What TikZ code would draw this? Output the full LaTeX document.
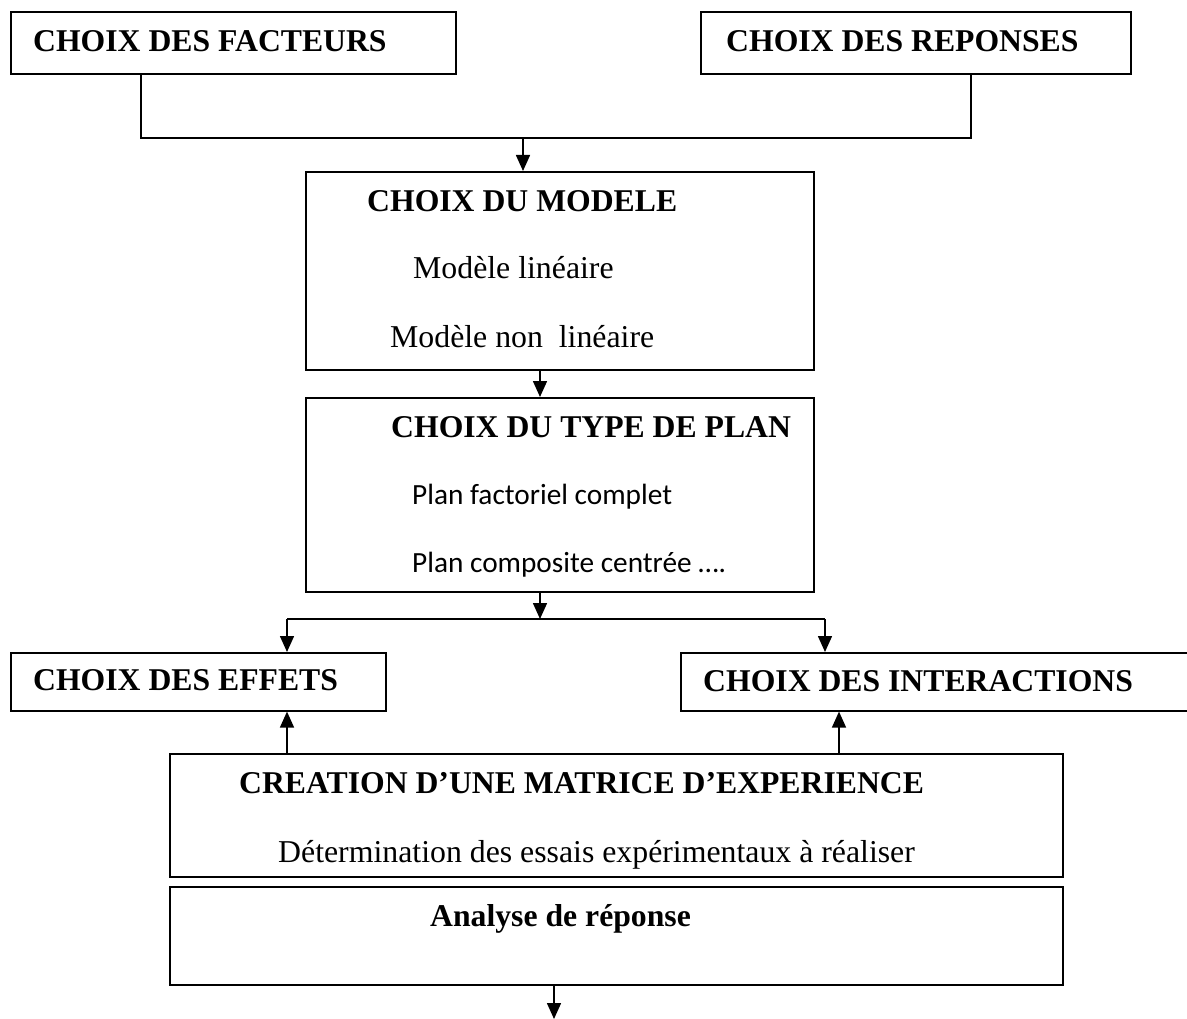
\documentclass[tikz,border=0pt]{standalone}
\usepackage{fontspec}
\setmainfont{Liberation Serif}
\newfontfamily\calib{Carlito}
\usetikzlibrary{arrows.meta}
\begin{document}
\begin{tikzpicture}[x=1pt,y=-1pt,
  boxshape/.style={draw=black,line width=1.6pt,rectangle,inner sep=0pt,anchor=north west},
  tb/.style={anchor=base west,inner sep=0pt,font=\fontsize{31.7}{38}\selectfont\bfseries},
  tr/.style={anchor=base west,inner sep=0pt,font=\fontsize{31.8}{38}\selectfont},
  tc/.style={anchor=base west,inner sep=0pt,font=\calib\fontsize{29.3}{35}\selectfont},
  conn/.style={line width=1.6pt},
  arr/.style={line width=1.6pt,-{Triangle[width=14pt,length=16pt]}}]
\useasboundingbox (0,0) rectangle (1187,1019);
% boxes
\node[boxshape,minimum width=445pt,minimum height=62pt] (b1) at (10,11) {};
\node[boxshape,minimum width=430pt,minimum height=62pt] (b2) at (700,11) {};
\node[boxshape,minimum width=508pt,minimum height=198pt] (b3) at (305,171) {};
\node[boxshape,minimum width=508pt,minimum height=194pt] (b4) at (305,397) {};
\node[boxshape,minimum width=375pt,minimum height=58pt] (b5) at (10,652) {};
\node[boxshape,minimum width=515pt,minimum height=58pt] (b6) at (680,652) {};
\node[boxshape,minimum width=893pt,minimum height=123pt] (b7) at (169,753) {};
\node[boxshape,minimum width=893pt,minimum height=98pt] (b8) at (169,886) {};
% texts
\node[tb] (t1) at (33,52) {CHOIX DES FACTEURS};
\node[tb] (t2) at (726,52) {CHOIX DES REPONSES};
\node[tb] (t3) at (367,212) {CHOIX DU MODELE};
\node[tr] (t3a) at (413,279) {Modèle linéaire};
\node[tr] (t3b) at (390,348) {Modèle non~ linéaire};
\node[tb] (t4) at (391,437) {CHOIX DU TYPE DE PLAN};
\node[tc] (t4a) at (412,504) {Plan factoriel complet};
\node[tc] (t4b) at (412,572) {Plan composite centrée ….};
\node[tb] (t5) at (33,690) {CHOIX DES EFFETS};
\node[tb] (t6) at (703,691) {CHOIX DES INTERACTIONS};
\node[tb] (t7) at (239,793) {CREATION D’UNE MATRICE D’EXPERIENCE};
\node[tr] (t7a) at (278,862) {Détermination des essais expérimentaux à réaliser};
\node[tb] (t8) at (430,926) {Analyse de réponse};
% helper coordinates
\coordinate (xa) at (141,0);
\coordinate (xb) at (971,0);
\coordinate (xc) at (523,0);
\coordinate (xd) at (540,0);
\coordinate (xe) at (287,0);
\coordinate (xf) at (825,0);
\coordinate (xg) at (839,0);
\coordinate (xh) at (554,0);
\coordinate (j1) at (523,138);
\coordinate (j2) at (540,619);
\coordinate (fin) at (554,1019);
% connectors
\draw[conn] (b1.south -| xa) |- (j1) -| (b2.south -| xb);
\draw[arr] (j1) -- (b3.north -| xc);
\draw[arr] (b3.south -| xd) -- (b4.north -| xd);
\draw[arr] (b4.south -| xd) -- (j2);
\draw[conn] (j2 -| xe) -- (j2 -| xf);
\draw[arr] (j2 -| xe) -- (b5.north -| xe);
\draw[arr] (j2 -| xf) -- (b6.north -| xf);
\draw[arr] (b7.north -| xe) -- (b5.south -| xe);
\draw[arr] (b7.north -| xg) -- (b6.south -| xg);
\draw[arr] (b8.south -| xh) -- (fin);
\end{tikzpicture}
\end{document}
